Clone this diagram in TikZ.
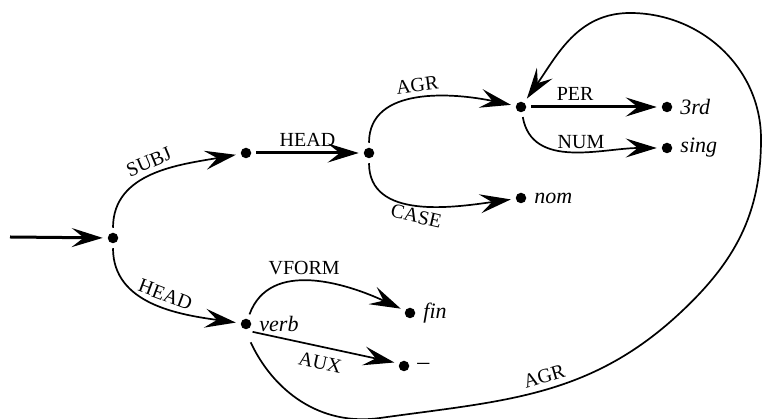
\documentclass[tikz,border=0pt]{standalone}
\usepackage{fontspec}
\setmainfont{Liberation Serif}
\usepackage{tikz}
\usetikzlibrary{arrows.meta,positioning}

\begin{document}
\begin{tikzpicture}[x=1pt, y=1pt]
				\tikzstyle{Dot}		= [circle, fill, minimum size=10.5pt, inner sep=0pt, outer sep=5pt]
				\tikzstyle{Val}		= [font=\fontsize{22}{26}\selectfont\itshape, inner sep=1pt, label distance=2pt]
				\tikzstyle{Lab}		= [font=\fontsize{20}{24}\selectfont, inner sep=6pt]
				\tikzstyle{Arc}		= [line width=1.7pt, -{Stealth[length=31pt, width=19pt, inset=12pt]}]
				\tikzstyle{Bar}		= [line width=3pt]

				\useasboundingbox (0, 0) rectangle (762, 419);

				\coordinate (in) at (10, 182);
				\node (root) at (113, 181) [Dot] {};

				\node (subj) at (246, 266) [Dot] {};
				\node (hd) at (369, 266) [Dot] {};
				\node (agr) at (521, 312) [Dot] {};
				\node (third) at (667, 312) [Dot, label={[Val]right:3rd}] {};
				\node (sing) at (667, 271) [Dot, label={[Val]right:sing}] {};
				\node (nom) at (521, 221) [Dot, label={[Val]right:nom}] {};

				\node (verb) at (246, 95) [Dot, label={[Val]right:verb}] {};
				\node (fin) at (410, 106) [Dot, label={[Val]right:fin}] {};
				\node (minus) at (404, 53) [Dot, label={[Val, font=\fontsize{24}{26}\selectfont]right:--}] {};

				% loop corners
				\coordinate (lb) at (380, 1);
				\coordinate (lm) at (680, 106);
				\coordinate (lr) at (761, 280);
				\coordinate (lt) at (630, 406);

				\draw (in) to (root) [Arc, Bar];
				\draw (root) to [out=90, in=190] node [Lab, sloped, above, pos=0.5] {SUBJ} (subj) [Arc];
				\draw (subj) to node [Lab, above] {HEAD} (hd) [Arc, Bar];
				\draw (hd) to [out=90, in=168] node [Lab, sloped, above, pos=0.5] {AGR} (agr) [Arc];
				\draw (hd) to [out=-90, in=188] node [Lab, below, rotate=-13, pos=0.5, inner sep=4pt] {CASE} (nom) [Arc];
				\draw (agr) to node [Lab, above, pos=0.35] {PER} (third) [Arc, Bar];
				\draw (agr) to [out=-80, in=180] node [Lab, sloped, above, pos=0.55, inner sep=4pt] {NUM} (sing) [Arc];

				\draw (root) to [out=-90, in=172] node [Lab, sloped, above, pos=0.55] {HEAD} (verb) [Arc];
				\draw (verb.70) to [out=70, in=155] node [Lab, above, pos=0.45] {VFORM} (fin) [Arc];
				\draw (verb.-50) to node [Lab, sloped, below, inner sep=9pt] {AUX} (minus.160) [Arc];
				\draw [shorten <=9pt] (verb.-85) to [out=-65, in=188] (lb)
					to [out=8, in=223] node [Lab, sloped, above, pos=0.52] {AGR} (lm)
					to [out=43, in=-90] (lr)
					to [out=90, in=0] (lt)
					to [out=180, in=55] (agr) [Arc];
			\end{tikzpicture}
\end{document}
